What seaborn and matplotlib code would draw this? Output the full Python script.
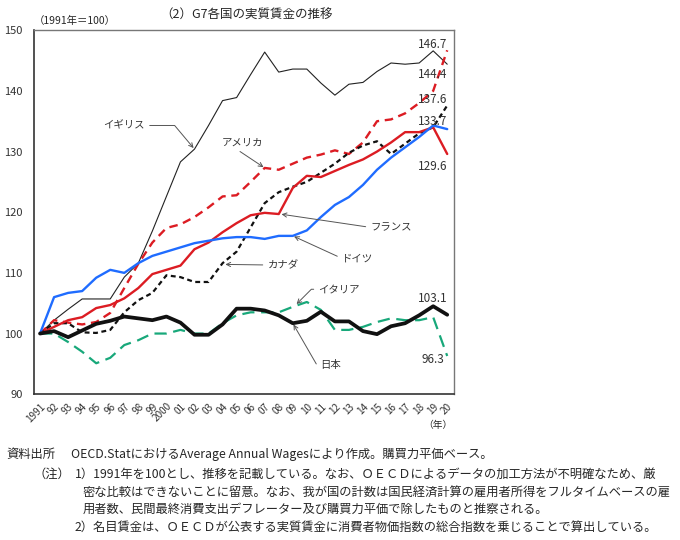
import numpy as np
import pandas as pd
import matplotlib
matplotlib.use("Agg")
import matplotlib.pyplot as plt
import seaborn as sns

# data (1991 = 100)
years = list(range(1991, 2021))
year_labels = ["1991"] + ["%02d" % (y % 100) for y in range(1992, 2000)] + ["2000"] + \
    ["%02d" % (y % 100) for y in range(2001, 2021)]

uk = [100, 102.2, 104.0, 105.7, 105.7, 105.7, 109.3, 111.6, 116.9, 122.6,
      128.3, 130.4, 134.3, 138.4, 138.9, 142.7, 146.4, 143.1, 143.6, 143.6,
      141.3, 139.3, 141.1, 141.4, 143.2, 144.6, 144.4, 144.6, 146.6, 144.4]
usa = [100, 102.2, 101.8, 101.5, 101.9, 103.4, 107.5, 111.5, 115.0, 117.4,
       118.0, 119.2, 120.8, 122.6, 122.8, 125.0, 127.3, 127.0, 128.0, 129.0,
       129.5, 130.2, 129.6, 131.5, 135.0, 135.3, 136.3, 138.0, 140.0, 146.7]
canada = [100, 101.7, 101.7, 100.2, 100.1, 100.6, 103.5, 105.5, 106.7, 109.6,
          109.3, 108.5, 108.5, 111.6, 113.5, 117.5, 121.5, 123.3, 124.2, 125.0,
          126.5, 128.0, 129.8, 131.0, 131.7, 129.6, 131.3, 133.0, 134.0, 137.6]
france = [100, 101.1, 102.2, 102.7, 104.2, 104.7, 105.8, 107.5, 109.8, 110.5,
          111.2, 113.9, 115.0, 116.7, 118.2, 119.5, 119.9, 119.7, 124.0, 126.0,
          125.8, 126.8, 127.8, 128.7, 130.0, 131.5, 133.2, 133.2, 134.0, 129.6]
germany = [100, 106.0, 106.7, 107.0, 109.2, 110.5, 110.0, 111.6, 112.8, 113.5,
           114.2, 114.9, 115.3, 115.7, 115.9, 115.9, 115.6, 116.1, 116.1, 117.0,
           119.2, 121.2, 122.5, 124.5, 127.0, 129.0, 130.7, 132.4, 134.3, 133.7]
italy = [100, 100.0, 98.6, 97.0, 95.1, 96.0, 98.1, 98.9, 100.0, 100.0,
         100.6, 100.0, 100.0, 101.7, 103.0, 103.5, 103.5, 103.5, 104.4, 105.2,
         103.9, 100.6, 100.6, 101.1, 101.9, 102.5, 102.2, 102.2, 102.7, 96.3]
japan = [100, 100.4, 99.4, 100.5, 101.6, 102.1, 102.8, 102.5, 102.2, 102.8,
         101.8, 99.8, 99.8, 101.5, 104.1, 104.1, 103.8, 103.0, 101.7, 102.1,
         103.6, 102.0, 102.0, 100.4, 99.9, 101.2, 101.7, 103.0, 104.5, 103.1]

sns.set_theme(style="white")
plt.rcParams['font.family'] = ['Noto Sans CJK JP', 'DejaVu Sans']

fig = plt.figure(figsize=(6.8, 5.4), dpi=100)
ax = fig.add_axes([0.05, 0.27, 0.618, 0.674])

RED = "#dc1c23"
BLUE = "#1f6cff"
GREEN = "#18a87a"

# (values, color, linewidth, linestyle)
series = [
    (uk, "#222222", 0.8, "-"),
    (usa, RED, 1.7, (0, (3.6, 2.4))),
    (canada, "#111111", 1.6, (0, (2.2, 1.6))),
    (france, RED, 1.7, "-"),
    (germany, BLUE, 1.7, "-"),
    (italy, GREEN, 1.6, (0, (5.5, 3.0))),
    (japan, "#111111", 2.7, "-"),
]
for vals, col, lw, ls in series:
    sns.lineplot(x=years, y=vals, ax=ax, color=col, lw=lw, linestyle=ls)

ax.set_xlim(1990.57, 2020.5)
ax.set_ylim(90, 150)
ax.set_yticks(np.arange(90, 151, 10))
ax.tick_params(axis='y', labelsize=8, length=0, pad=8, colors="#333333")
ax.set_xticks(years)
ax.set_xticklabels(year_labels, rotation=45, ha='right', rotation_mode='anchor',
                   fontsize=7.2, color="#333333")
ax.tick_params(axis='x', length=0, pad=5)
ax.set_xlabel("")
ax.set_ylabel("")
for side in ['left', 'bottom']:
    ax.spines[side].set_color("#333333")
    ax.spines[side].set_linewidth(1.2)
for side in ['top', 'right']:
    ax.spines[side].set_color("#777777")
    ax.spines[side].set_linewidth(1.0)

# end value labels
end_labels = [(usa, 1.0), (uk, -1.65), (canada, 0.9), (germany, 1.3),
              (france, -2.0), (japan, 2.75), (italy, -0.5)]
for vals, dy in end_labels:
    ax.text(2018.95, vals[-1] + dy, "%.1f" % vals[-1], ha='center', va='center',
            fontsize=8.5, color="#333333")

arrow_kw = dict(arrowstyle='->', color="#555555", lw=0.7, shrinkA=1, shrinkB=1)

def label(txt, xy, xytext, relpos, conn="arc3", ha='center'):
    props = dict(arrow_kw, relpos=relpos, connectionstyle=conn)
    ax.annotate(txt, xy=xy, xytext=xytext, fontsize=7.5, ha=ha, va='center',
                color="#333333", arrowprops=props)

label("イギリス", (2002, uk[11]), (1997.0, 134.3), (1, 0.5),
      "angle,angleA=0,angleB=-50,rad=0", ha='center')
label("アメリカ", (2007, usa[16]), (2005.4, 131.5), (0.3, 0), ha='center')
label("フランス", (2008.1, france[17]), (2016.0, 117.5), (0, 0.5), ha='center')
label("ドイツ", (2009, germany[18]), (2013.6, 112.4), (0, 0.5), ha='center')
label("カナダ", (2004.1, 111.4), (2008.3, 111.3), (0, 0.5), ha='center')
label("イタリア", (2009.2, 104.7), (2012.3, 107.3), (0, 0.5),
      "angle,angleA=0,angleB=45,rad=0", ha='center')
label("日本", (2009, japan[18]), (2011.7, 94.8), (0, 0.5),
      "angle,angleA=0,angleB=-60,rad=0", ha='center')

fig.text(0.363, 0.972, "（2）G7各国の実質賃金の推移", ha='center', va='center', fontsize=9)
fig.text(0.11, 0.962, "（1991年＝100）", ha='center', va='center', fontsize=7.5)
fig.text(0.644, 0.213, "（年）", ha='center', va='center', fontsize=7)

notes_fs = 8.85
fig.text(0.01, 0.158, "資料出所", fontsize=notes_fs, va='center')
fig.text(0.104, 0.158, "OECD.StatにおけるAverage Annual Wagesにより作成。購買力平価ベース。",
         fontsize=notes_fs, va='center')
fig.text(0.05, 0.122, "（注）", fontsize=notes_fs, va='center')
fig.text(0.11, 0.122, "1）1991年を100とし、推移を記載している。なお、ＯＥＣＤによるデータの加工方法が不明確なため、厳",
         fontsize=notes_fs, va='center')
fig.text(0.122, 0.088, "密な比較はできないことに留意。なお、我が国の計数は国民経済計算の雇用者所得をフルタイムベースの雇",
         fontsize=notes_fs, va='center')
fig.text(0.122, 0.056, "用者数、民間最終消費支出デフレーター及び購買力平価で除したものと推察される。",
         fontsize=notes_fs, va='center')
fig.text(0.11, 0.024, "2）名目賃金は、ＯＥＣＤが公表する実質賃金に消費者物価指数の総合指数を乗じることで算出している。",
         fontsize=notes_fs, va='center')

fig.savefig("out.png", dpi=100)
